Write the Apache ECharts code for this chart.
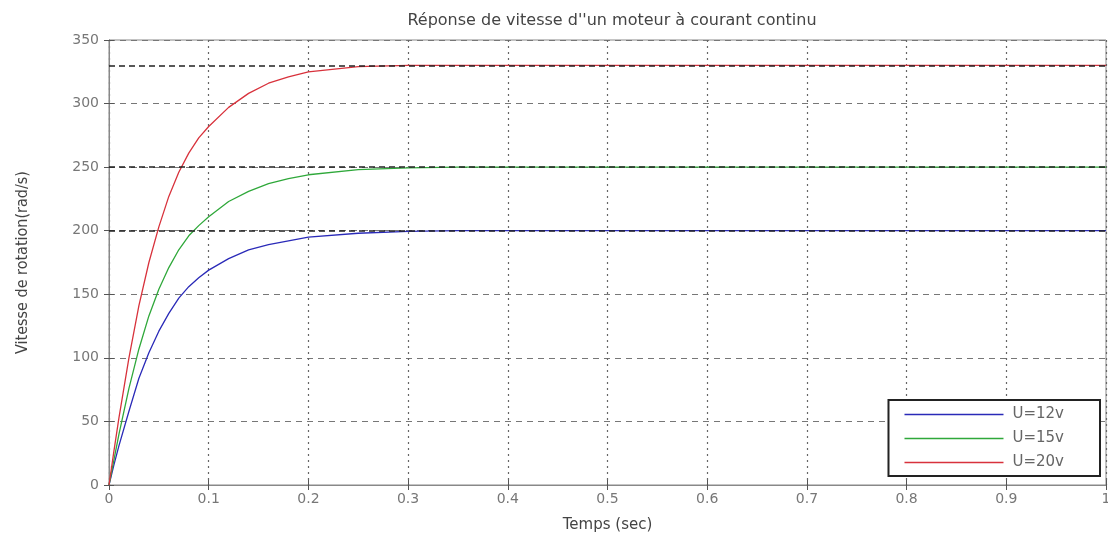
<!DOCTYPE html>
<html><head><meta charset="utf-8">
<script src="https://cdn.jsdelivr.net/npm/echarts@6/dist/echarts.min.js"></script>
<style>html,body{margin:0;padding:0;background:#fff}#c{width:1108px;height:534px}</style>
</head><body><div id="c"></div>
<script>
const times = [0, 0.005, 0.01, 0.02, 0.03, 0.04, 0.05, 0.06, 0.07, 0.08, 0.09, 0.1, 0.12, 0.14, 0.16, 0.18, 0.2, 0.25, 0.3, 0.35, 0.4, 0.5, 0.6, 0.7, 0.8, 0.9, 1.0];
const u12 = [0, 16, 31, 58, 84, 104, 121, 135, 147, 156, 163, 169, 178, 185, 189, 192, 195, 198, 199.5, 200, 200, 200, 200, 200, 200, 200, 200];
const u15 = [0, 20, 40, 76, 107, 133, 154, 171, 185, 196, 204, 211, 223, 231, 237, 241, 244, 248, 249.5, 250, 250, 250, 250, 250, 250, 250, 250];
const u20 = [0, 27, 53, 100, 141, 175, 203, 227, 246, 261, 273, 282, 297, 308, 316, 321, 325, 329, 330, 330, 330, 330, 330, 330, 330, 330, 330];
const seriesNames = ['U=12v', 'U=15v', 'U=20v'];
const steadyStates = [200, 250, 330];
const xTicks = ['0', '0.1', '0.2', '0.3', '0.4', '0.5', '0.6', '0.7', '0.8', '0.9', '1'];
const yTicks = [0, 50, 100, 150, 200, 250, 300, 350];

const colors = ['#2a2ab8', '#2fa83a', '#d8323c'];
const values = [u12, u15, u20];
const chart = echarts.init(document.getElementById('c'));
const tickFont = {color: '#777', fontSize: 14, fontFamily: 'DejaVu Sans'};
const series = values.map((arr, i) => ({
  name: seriesNames[i], type: 'line', showSymbol: false, smooth: false,
  data: times.map((t, k) => [t, arr[k]]),
  lineStyle: {color: colors[i], width: 1.3}, itemStyle: {color: colors[i]},
  z: 3,
  markLine: {silent: true, symbol: 'none', label: {show: false},
    lineStyle: {color: '#222', type: [6, 4], width: 1.6},
    data: [{yAxis: steadyStates[i]}]}
}));
chart.setOption({
  animation: false,
  title: {text: "Réponse de vitesse d''un moteur à courant continu", left: 607, textAlign: 'center', top: 8,
    textStyle: {fontSize: 16, fontWeight: 'normal', color: '#444', fontFamily: 'DejaVu Sans'}},
  grid: {left: 109, right: 2, top: 40, bottom: 49, show: true, borderColor: '#888', borderWidth: 1, outerBoundsMode: 'none', containLabel: false},
  legend: {orient: 'vertical', right: 8, top: 400, data: seriesNames, icon: 'rect', itemWidth: 99, itemHeight: 1.5,
    itemGap: 9, borderColor: '#222', borderWidth: 2, backgroundColor: '#fff', padding: [7, 36, 6, 16],
    textStyle: {fontSize: 15, color: '#666', fontFamily: 'DejaVu Sans', padding: [0, 0, 0, 4]}, z: 10},
  xAxis: [{type: 'value', min: 0, max: 1, interval: 0.1,
    name: 'Temps (sec)', nameLocation: 'middle', nameGap: 33, nameTextStyle: {fontSize: 15, color: '#444', fontFamily: 'DejaVu Sans'},
    axisLine: {show: true, lineStyle: {color: '#888'}}, axisTick: {inside: true, length: 5, lineStyle: {color: '#555'}},
    axisLabel: {...tickFont, margin: 7, formatter: (v) => xTicks[Math.round(v * 10)]},
    splitLine: {show: true, lineStyle: {color: '#666', type: [2, 4], width: 1.2}}},
    {type: 'value', position: 'top', min: 0, max: 1, interval: 0.1, axisLine: {show: true, lineStyle: {color: '#888'}},
    axisTick: {inside: true, length: 5, lineStyle: {color: '#555'}}, axisLabel: {show: false}, splitLine: {show: false}}],
  yAxis: [{type: 'value', min: yTicks[0], max: yTicks[yTicks.length - 1], interval: 50,
    name: 'Vitesse de rotation(rad/s)', nameLocation: 'middle', nameGap: 78,
    nameTextStyle: {fontSize: 16, color: '#444', fontFamily: 'DejaVu Sans Condensed, Liberation Sans'},
    axisLine: {show: true, lineStyle: {color: '#888'}}, axisTick: {inside: true, length: 5, lineStyle: {color: '#555'}},
    axisLabel: {...tickFont, margin: 10},
    splitLine: {show: true, lineStyle: {color: '#777', type: [6, 5], width: 1}}},
    {type: 'value', position: 'right', min: 0, max: 350, interval: 50, axisLine: {show: true, lineStyle: {color: '#888'}},
    axisTick: {inside: true, length: 5, lineStyle: {color: '#555'}}, axisLabel: {show: false}, splitLine: {show: false}}],
  series: series
});
</script></body></html>
